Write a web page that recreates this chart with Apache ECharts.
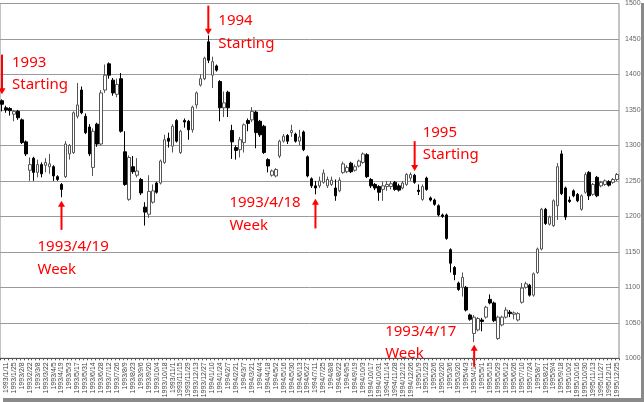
<!DOCTYPE html>
<html><head><meta charset="utf-8">
<script src="https://cdn.jsdelivr.net/npm/echarts@6/dist/echarts.min.js"></script>
<style>html,body{margin:0;padding:0;background:#fff}#c{width:644px;height:402px}</style>
</head><body><div id="c"></div>
<script>
const dates = [
'1993/1/4','1993/1/11','1993/1/18','1993/1/25','1993/2/1','1993/2/8','1993/2/15','1993/2/22','1993/3/1','1993/3/8','1993/3/15','1993/3/22','1993/3/29','1993/4/5','1993/4/12','1993/4/19','1993/4/26','1993/5/3','1993/5/10','1993/5/17','1993/5/24','1993/5/31','1993/6/7','1993/6/14','1993/6/21','1993/6/28','1993/7/5','1993/7/12','1993/7/19','1993/7/26','1993/8/2','1993/8/9','1993/8/16','1993/8/23','1993/8/30','1993/9/6','1993/9/13','1993/9/20','1993/9/27','1993/10/4','1993/10/11','1993/10/18','1993/10/25','1993/11/1','1993/11/8','1993/11/15','1993/11/22','1993/11/29','1993/12/6','1993/12/13','1993/12/20','1993/12/27',
'1994/1/3','1994/1/10','1994/1/17','1994/1/24','1994/1/31','1994/2/7','1994/2/14','1994/2/21','1994/2/28','1994/3/7','1994/3/14','1994/3/21','1994/3/28','1994/4/4','1994/4/11','1994/4/18','1994/4/25','1994/5/2','1994/5/9','1994/5/16','1994/5/23','1994/5/30','1994/6/6','1994/6/13','1994/6/20','1994/6/27','1994/7/4','1994/7/11','1994/7/18','1994/7/25','1994/8/1','1994/8/8','1994/8/15','1994/8/22','1994/8/29','1994/9/5','1994/9/12','1994/9/19','1994/9/26','1994/10/3','1994/10/10','1994/10/17','1994/10/24','1994/10/31','1994/11/7','1994/11/14','1994/11/21','1994/11/28','1994/12/5','1994/12/12','1994/12/19','1994/12/26',
'1995/1/2','1995/1/9','1995/1/16','1995/1/23','1995/1/30','1995/2/6','1995/2/13','1995/2/20','1995/2/27','1995/3/6','1995/3/13','1995/3/20','1995/3/27','1995/4/3','1995/4/10','1995/4/17','1995/4/24','1995/5/1','1995/5/8','1995/5/15','1995/5/22','1995/5/29','1995/6/5','1995/6/12','1995/6/19','1995/6/26','1995/7/3','1995/7/10','1995/7/17','1995/7/24','1995/7/31','1995/8/7','1995/8/14','1995/8/21','1995/8/28','1995/9/4','1995/9/11','1995/9/18','1995/9/25','1995/10/2','1995/10/9','1995/10/16','1995/10/23','1995/10/30','1995/11/6','1995/11/13','1995/11/20','1995/11/27','1995/12/4','1995/12/11','1995/12/18','1995/12/25'];

const opens = [1363,1353,1352,1344,1348,1336,1305,1265,1282,1262,
1273,1272,1270,1270,1256,1245,1256,1288,1290,1341,
1378,1341,1326,1269,1330,1302,1378,1415,1392,1372,
1394,1291,1224,1270,1258,1252,1213,1203,1220,1247,
1247,1276,1310,1299,1335,1290,1335,1334,1322,1357,
1385,1394,1446,1399,1412,1390,1353,1375,1321,1297,
1294,1304,1335,1336,1347,1334,1327,1280,1258,1257,
1285,1306,1314,1318,1316,1306,1319,1284,1253,1243,
1243,1248,1243,1245,1240,1236,1262,1263,1275,1265,
1271,1276,1287,1252,1245,1242,1238,1242,1242,1248,
1243,1240,1245,1254,1258,1237,1224,1254,1226,1223,
1215,1202,1202,1153,1128,1106,1100,1100,1061,1035,
1040,1054,1058,1083,1078,1028,1047,1058,1065,1062,
1054,1079,1100,1103,1089,1121,1154,1210,1189,1187,
1215,1288,1240,1223,1236,1231,1210,1234,1262,1231,
1255,1243,1245,1249,1248,1252];
const closes = [1358,1350,1349,1348,1339,1304,1288,1273,1262,1273,
1260,1276,1274,1257,1252,1238,1302,1300,1346,1357,
1346,1318,1288,1320,1302,1374,1399,1399,1374,1386,
1320,1245,1283,1263,1264,1233,1206,1235,1236,1234,
1278,1308,1306,1327,1306,1320,1333,1322,1354,1374,
1394,1423,1420,1418,1406,1353,1360,1353,1305,1293,
1308,1329,1331,1348,1318,1315,1290,1271,1264,1266,
1306,1313,1306,1321,1306,1312,1294,1257,1243,1240,
1250,1261,1252,1251,1229,1251,1274,1269,1263,1270,
1278,1288,1256,1243,1240,1234,1243,1245,1246,1238,
1237,1247,1259,1259,1248,1235,1242,1238,1223,1217,
1202,1200,1169,1134,1118,1097,1114,1068,1055,1058,
1056,1052,1072,1078,1053,1058,1058,1068,1063,1064,
1063,1099,1105,1089,1119,1154,1210,1190,1199,1222,
1270,1232,1199,1221,1229,1222,1229,1259,1229,1245,
1229,1248,1250,1244,1252,1259];
const lows = [1348,1346,1342,1334,1336,1302,1285,1250,1250,1255,
1255,1262,1260,1250,1250,1227,1254,1280,1288,1338,
1344,1316,1285,1257,1298,1300,1374,1394,1370,1368,
1318,1243,1222,1260,1255,1230,1187,1198,1218,1232,
1245,1274,1297,1290,1304,1288,1325,1308,1318,1352,
1383,1392,1416,1381,1404,1334,1340,1340,1281,1280,
1283,1290,1320,1333,1296,1312,1288,1262,1256,1255,
1282,1304,1302,1312,1304,1300,1292,1255,1240,1231,
1240,1246,1240,1243,1222,1234,1260,1261,1261,1263,
1269,1274,1254,1240,1237,1222,1222,1236,1238,1236,
1235,1238,1243,1250,1246,1230,1222,1236,1221,1215,
1200,1198,1167,1121,1110,1095,1087,1066,1053,1023,
1038,1038,1056,1076,1051,1026,1045,1056,1058,1055,
1052,1077,1098,1087,1087,1119,1152,1188,1187,1185,
1195,1230,1195,1219,1227,1220,1208,1232,1223,1229,
1227,1241,1243,1242,1246,1250];
const highs = [1365,1356,1354,1350,1350,1338,1307,1283,1284,1280,
1276,1282,1288,1272,1258,1247,1306,1302,1348,1388,
1383,1345,1330,1324,1332,1378,1414,1417,1395,1394,
1402,1320,1286,1285,1282,1254,1220,1258,1245,1249,
1280,1315,1318,1330,1337,1322,1338,1336,1356,1376,
1400,1425,1455,1425,1414,1392,1376,1377,1329,1300,
1312,1331,1338,1354,1349,1336,1329,1282,1266,1268,
1308,1316,1316,1329,1318,1322,1321,1286,1255,1250,
1256,1266,1256,1256,1252,1255,1277,1272,1277,1273,
1280,1290,1289,1254,1247,1244,1249,1250,1250,1250,
1246,1250,1261,1262,1260,1245,1245,1256,1228,1225,
1217,1204,1204,1155,1130,1108,1121,1102,1063,1061,
1058,1057,1074,1090,1080,1060,1060,1072,1068,1066,
1065,1106,1108,1105,1121,1156,1212,1212,1201,1224,
1275,1293,1242,1228,1238,1233,1231,1262,1264,1247,
1257,1250,1252,1251,1254,1261];

const yTicks = [1000,1050,1100,1150,1200,1250,1300,1350,1400,1450,1500];

const notes = [
  {cat:'1993/1/4',  v1:1428, v2:1372, head:'down', text1:'1993',      text2:'Starting', dx:10,  dy1:8,  dy2:30},
  {cat:'1994/1/3',  v1:1497, v2:1456, head:'down', text1:'1994',      text2:'Starting', dx:10,  dy1:15, dy2:38},
  {cat:'1993/4/19', v1:1222, v2:1181, head:'up',   text1:'1993/4/19', text2:'Week',     dx:-24, dy1:46, dy2:69},
  {cat:'1994/7/11', v1:1225, v2:1183, head:'up',   text1:'1993/4/18', text2:'Week',     dx:-86, dy1:4,  dy2:27},
  {cat:'1995/1/2',  v1:1306, v2:1264, head:'down', text1:'1995',      text2:'Starting', dx:8,   dy1:-8, dy2:14},
  {cat:'1995/4/17', v1:1019, v2:988,  head:'up',   text1:'1993/4/17', text2:'Week',     dx:-89, dy1:-13,dy2:9}
];

const candles = dates.map((d,i)=>[opens[i],closes[i],lows[i],highs[i]]);

const chart = echarts.init(document.getElementById('c'), null, {renderer:'canvas'});
chart.setOption({
  animation:false,
  backgroundColor:'#fff',
  grid:{left:0, right:25, top:1.6, bottom:43.7, show:true, borderColor:'#888', borderWidth:1, backgroundColor:'transparent'},
  xAxis:{
    type:'category', data:dates, boundaryGap:true,
    axisLine:{lineStyle:{color:'#555', width:1}},
    axisTick:{show:true, interval:0, length:2, lineStyle:{color:'#555'}},
    axisLabel:{rotate:90, interval:(idx)=>idx%2===1, fontSize:7, color:'#444', margin:4, fontFamily:'Liberation Sans'},
    splitLine:{show:false}
  },
  yAxis:{
    type:'value', position:'right', min:yTicks[0], max:yTicks[yTicks.length-1], interval:50,
    axisLine:{show:false}, axisTick:{show:false},
    axisLabel:{fontSize:7, color:'#666', margin:6, fontFamily:'Liberation Sans', formatter:(v)=>String(v)},
    splitLine:{lineStyle:{color:'#9a9a9a', width:1}}
  },
  series:[{
    type:'candlestick', data:candles, barWidth:3,
    itemStyle:{color:'#ffffff', color0:'#000000', borderColor:'#555555', borderColor0:'#000000', borderWidth:1}
  }]
});

function drawNotes(){
  const els = [];
  els.push({type:'rect', shape:{x:641, y:3, width:3, height:399}, style:{fill:'#8a8a8a'}, silent:true});
  els.push({type:'rect', shape:{x:3, y:398, width:641, height:4}, style:{fill:'#8a8a8a'}, silent:true});
  notes.forEach(n=>{
    const p1 = chart.convertToPixel({xAxisIndex:0, yAxisIndex:0},[n.cat, n.v1]);
    const p2 = chart.convertToPixel({xAxisIndex:0, yAxisIndex:0},[n.cat, n.v2]);
    const x = p1[0], yTop = p1[1], yBot = p2[1];
    if(n.head==='down'){
      els.push({type:'line', shape:{x1:x,y1:yTop,x2:x,y2:yBot-5}, style:{stroke:'#ff0000', lineWidth:2}});
      els.push({type:'polygon', shape:{points:[[x-3.5,yBot-6],[x+3.5,yBot-6],[x,yBot]]}, style:{fill:'#ff0000'}});
    } else {
      els.push({type:'line', shape:{x1:x,y1:yTop+5,x2:x,y2:yBot}, style:{stroke:'#ff0000', lineWidth:2}});
      els.push({type:'polygon', shape:{points:[[x-3.5,yTop+6],[x+3.5,yTop+6],[x,yTop]]}, style:{fill:'#ff0000'}});
    }
    [[n.text1,n.dy1],[n.text2,n.dy2]].forEach(([t,dy])=>{
      els.push({type:'text', x:x+n.dx, y:yTop+dy, style:{text:t, fill:'#ff0000', font:'15px "Noto Sans"', textVerticalAlign:'middle', textAlign:'left'}});
    });
  });
  chart.setOption({graphic:els});
}
drawNotes();
</script>
</body></html>
